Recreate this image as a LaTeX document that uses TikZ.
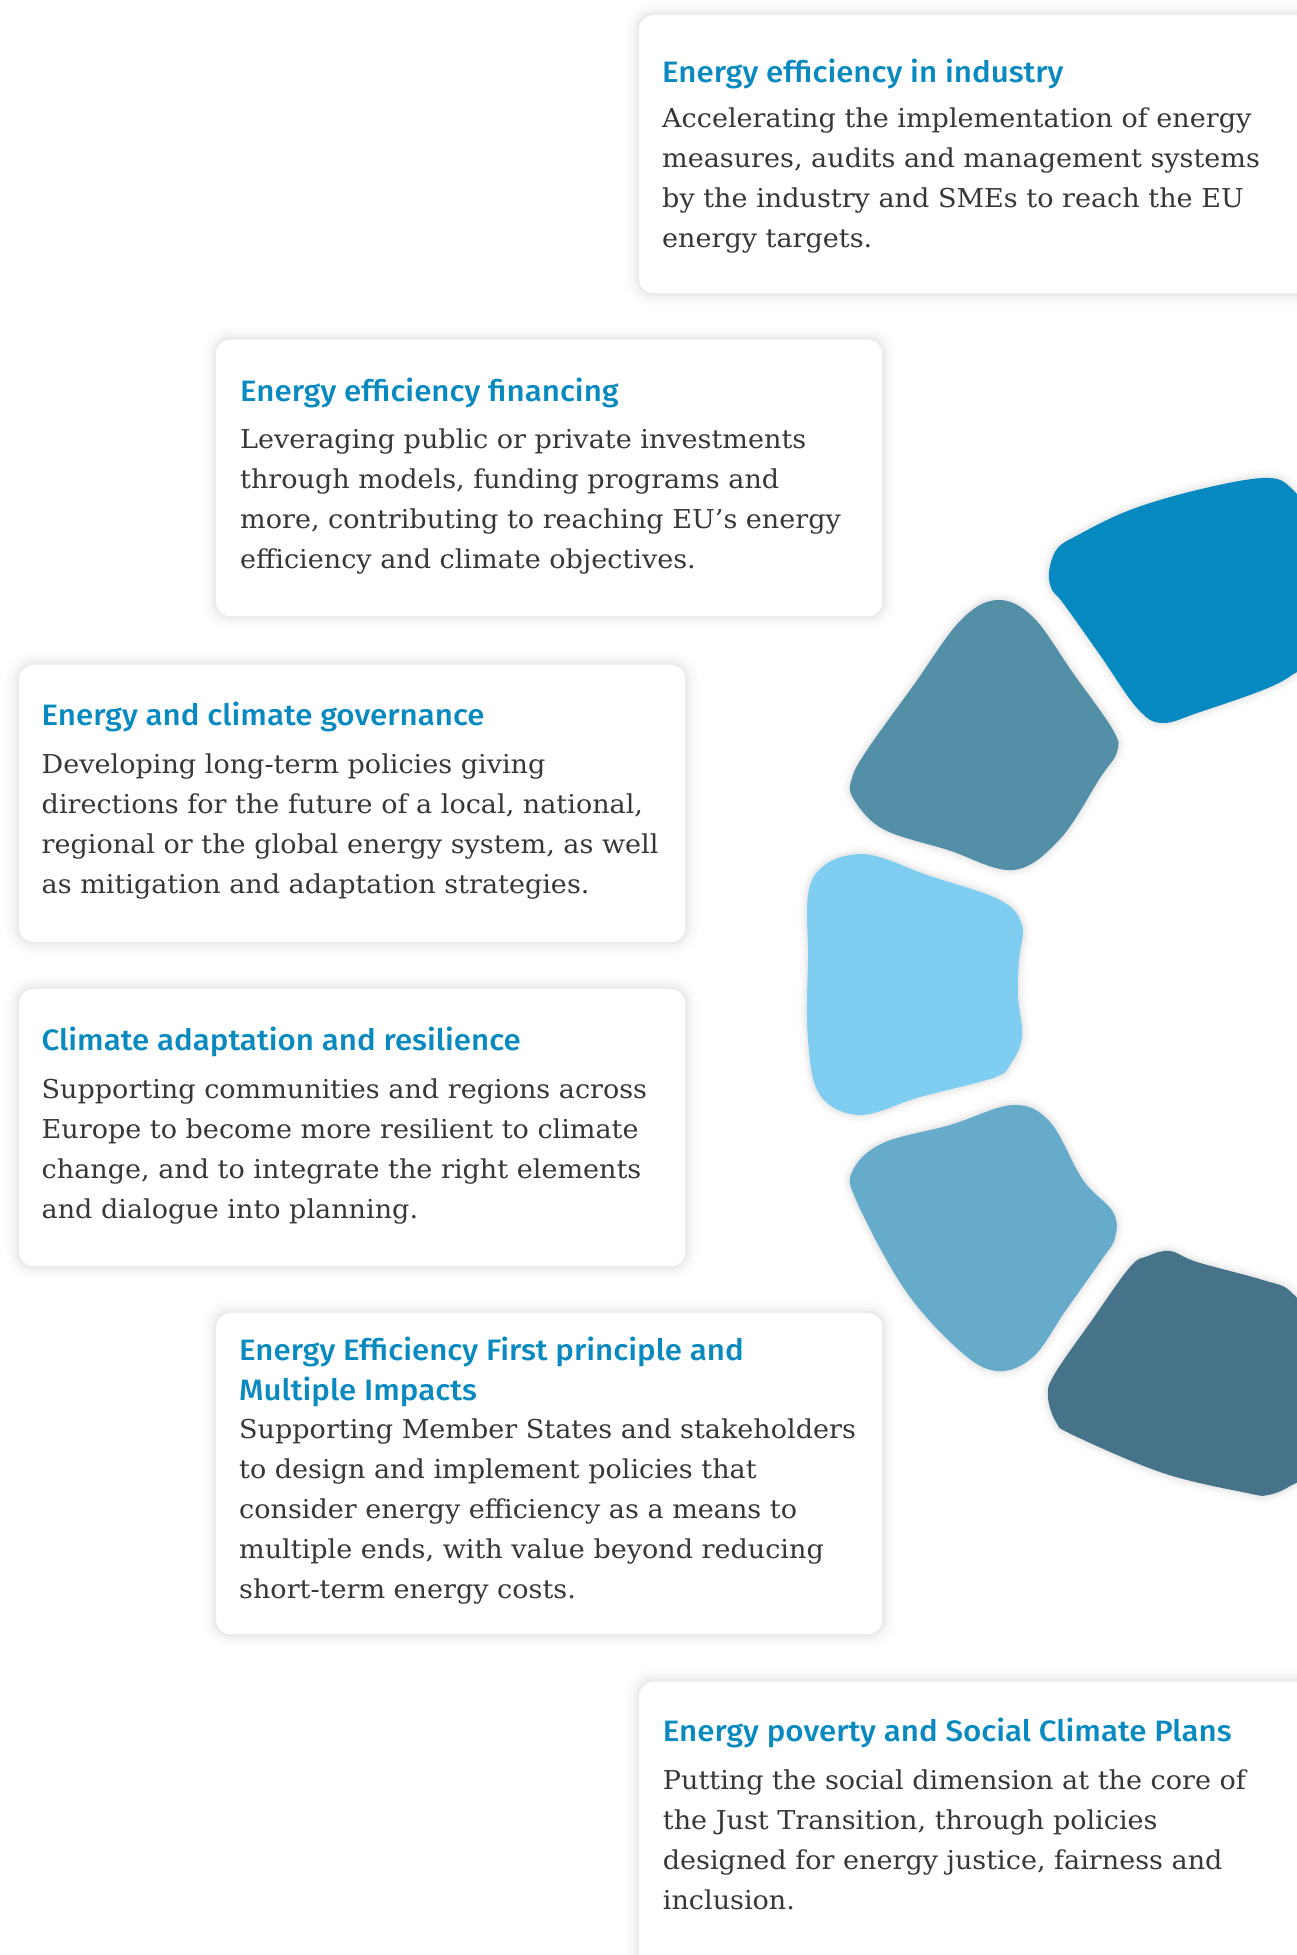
\documentclass[tikz,border=0pt]{standalone}
\usepackage{fontspec}
\newfontfamily\titlefont{Fira Sans Medium}[FakeStretch=1.06]
\newfontfamily\bodyfont{DejaVu Serif}[FakeStretch=1.04]
\definecolor{ttlblue}{RGB}{8,138,193}
\definecolor{bodygray}{RGB}{55,55,55}
\definecolor{blobA}{RGB}{5,137,192}
\definecolor{blobB}{RGB}{84,143,168}
\definecolor{blobC}{RGB}{127,205,240}
\definecolor{blobD}{RGB}{102,171,202}
\definecolor{blobE}{RGB}{70,115,137}
\begin{document}
\begin{tikzpicture}[x=1pt,y=-1pt,
  card/.style={fill=white, rounded corners=14pt, inner sep=0pt, anchor=north west,
    preaction={draw=black, draw opacity=0.012, line width=26pt},
    preaction={draw=black, draw opacity=0.016, line width=18pt},
    preaction={draw=black, draw opacity=0.022, line width=11pt},
    preaction={draw=black, draw opacity=0.028, line width=5pt}},
  blob/.style={preaction={draw=black, draw opacity=0.015, line width=16pt},
    preaction={draw=black, draw opacity=0.025, line width=10pt},
    preaction={draw=black, draw opacity=0.035, line width=5pt}},
  ttl/.style={anchor=base west, inner sep=0pt, text=ttlblue, font=\titlefont\fontsize{29.5}{40}\selectfont},
  bdy/.style={anchor=base west, inner sep=0pt, text=bodygray, font=\bodyfont\fontsize{26}{40}\selectfont}]
\useasboundingbox (0,0) rectangle (1297,1955);
\clip (0,0) rectangle (1297,1955);
\fill[white] (0,0) rectangle (1297,1955);

% cards
\node[card, minimum width=700pt, minimum height=278pt] (c1) at (639,15) {};
\node[card, minimum width=666pt, minimum height=276.5pt] (c2) at (216,339.5) {};
\node[card, minimum width=666pt, minimum height=277pt] (c3) at (19,664.7) {};
\node[card, minimum width=666pt, minimum height=277pt] (c4) at (19,989) {};
\node[card, minimum width=666pt, minimum height=321pt] (c5) at (216,1313) {};
\node[card, minimum width=700pt, minimum height=330pt] (c6) at (639,1681.5) {};

% blobs
\fill[blobA, blob] plot[smooth cycle, tension=0.6] coordinates {
  (1049,572) (1057,549) (1078,535) (1130,510) (1197,490) (1263,478) (1290,487)
  (1308,520) (1310,600) (1305,660) (1292,675) (1263,690) (1200,712) (1162,723)
  (1137,708) (1100,655) (1063,603) (1052,590)};
\fill[blobB, blob] plot[smooth cycle, tension=0.6] coordinates {
  (997,600) (1033,617) (1073,673) (1113,730) (1117,752) (1100,778) (1060,839) (1013,870)
  (948,850) (883,829) (853,798) (852,778) (867,750) (913,686) (960,621)};
\fill[blobC, blob] plot[smooth cycle, tension=0.6] coordinates {
  (812,880) (860,854) (930,876) (1000,900) (1022,925) (1019,960) (1018,996)
  (1022,1037) (1010,1065) (993,1078) (920,1097) (860,1115) (820,1095) (808,1040) (808,960)};
\fill[blobD, blob] plot[smooth cycle, tension=0.6] coordinates {
  (853,1170) (883,1143) (950,1125) (1013,1105) (1050,1122) (1083,1180) (1113,1212)
  (1115,1238) (1100,1262) (1066,1310) (1033,1357) (997,1371) (960,1351) (905,1290) (856,1200)};
\fill[blobE, blob] plot[smooth cycle, tension=0.6] coordinates {
  (1048,1397) (1054,1375) (1092,1320) (1130,1267) (1148,1256) (1170,1251) (1197,1262)
  (1263,1280) (1290,1291) (1306,1320) (1308,1400) (1305,1470) (1290,1486) (1268,1495)
  (1247,1493) (1163,1473) (1073,1435) (1056,1422)};

% texts
\node[ttl] (t1) at (662,82.3) {Energy efficiency in industry};
\node[bdy] (d1) at (662,127.8) {\parbox[t]{700pt}{Accelerating the implementation of energy\\measures, audits and management systems\\by the industry and SMEs to reach the EU\\energy targets.}};

\node[ttl] (t2) at (240,401.7) {Energy efficiency financing};
\node[bdy] (d2) at (240,448.3) {\parbox[t]{700pt}{Leveraging public or private investments\\through models, funding programs and\\more, contributing to reaching EU’s energy\\efficiency and climate objectives.}};

\node[ttl] (t3) at (41.5,725.8) {Energy and climate governance};
\node[bdy] (d3) at (41.5,773.8) {\parbox[t]{700pt}{Developing long-term policies giving\\directions for the future of a local, national,\\regional or the global energy system, as well\\as mitigation and adaptation strategies.}};

\node[ttl] (t4) at (41.5,1050) {Climate adaptation and resilience};
\node[bdy] (d4) at (41.5,1098) {\parbox[t]{700pt}{Supporting communities and regions across\\Europe to become more resilient to climate\\change, and to integrate the right elements\\and dialogue into planning.}};

\node[ttl] (t5) at (239,1360.6) {\parbox[t]{700pt}{Energy Efficiency First principle and\\Multiple Impacts}};
\node[bdy] (d5) at (239,1438.5) {\parbox[t]{700pt}{Supporting Member States and stakeholders\\to design and implement policies that\\consider energy efficiency as a means to\\multiple ends, with value beyond reducing\\short-term energy costs.}};

\node[ttl] (t6) at (662.7,1741.7) {Energy poverty and Social Climate Plans};
\node[bdy] (d6) at (662.7,1789.3) {\parbox[t]{700pt}{Putting the social dimension at the core of\\the Just Transition, through policies\\designed for energy justice, fairness and\\inclusion.}};
\end{tikzpicture}
\end{document}
